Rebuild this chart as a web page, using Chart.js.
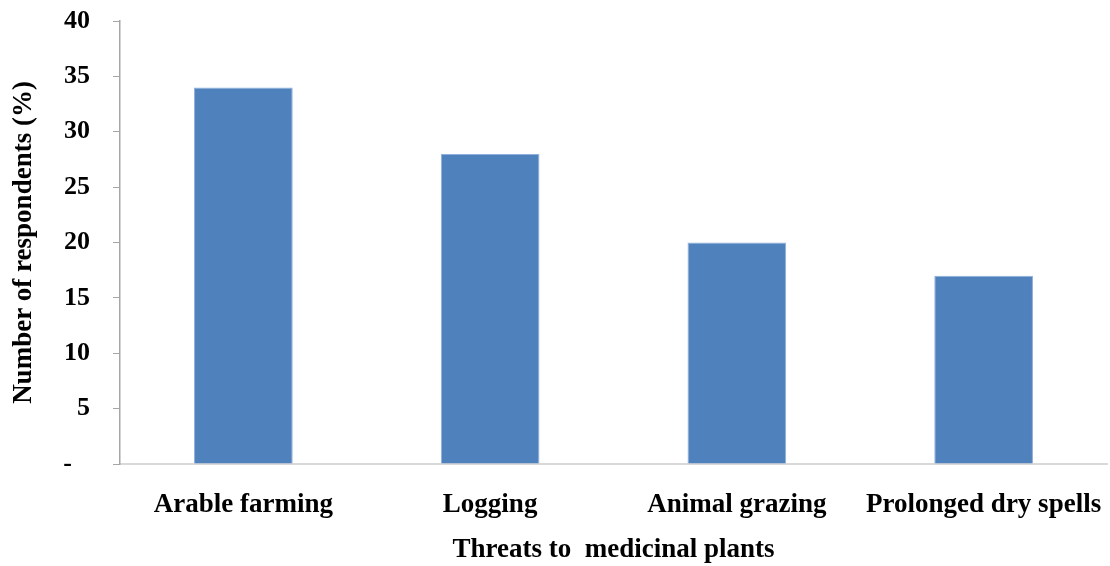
<!DOCTYPE html>
<html>
<head>
<meta charset="utf-8">
<script src="https://cdn.jsdelivr.net/npm/chart.js@4/dist/chart.umd.min.js"></script>
<style>
  html, body { margin: 0; padding: 0; background: #ffffff; }
  #wrap { width: 1110px; height: 566px; position: relative; }
</style>
</head>
<body>
<div id="wrap"><canvas id="chart" width="1110" height="566"></canvas></div>
<script>
// Threats reported by respondents (% of respondents)
const categories = ["Arable farming", "Logging", "Animal grazing", "Prolonged dry spells"];
const respondents = [34, 28, 20, 17];
const yMin = 0;
const yMax = 40;
const yStep = 5;

const FONT = "'Liberation Serif', 'Times New Roman', serif";

new Chart(document.getElementById("chart"), {
  type: "bar",
  data: {
    labels: categories,
    datasets: [{
      data: respondents,
      backgroundColor: "#4f81bd",
      borderColor: "#8fb0dc",
      borderWidth: 1,
      categoryPercentage: 0.4,
      barPercentage: 1.0
    }]
  },
  options: {
    responsive: false,
    animation: false,
    devicePixelRatio: 1,
    layout: { padding: { top: 21, right: 3, left: 0, bottom: 0 } },
    plugins: {
      legend: { display: false },
      tooltip: { enabled: false }
    },
    scales: {
      x: {
        grid: { display: true, drawOnChartArea: false, drawTicks: false },
        border: { display: true, color: "#d9d9d9", width: 2 },
        ticks: {
          color: "#000",
          padding: 25,
          maxRotation: 0,
          autoSkip: false,
          font: { family: FONT, size: 27, weight: "bold" }
        },
        title: {
          display: true,
          text: "Threats to  medicinal plants",
          color: "#000",
          padding: { top: 0, bottom: 0 },
          font: { family: FONT, size: 27, weight: "bold" }
        },
        afterFit(scale) {
          scale.height = 102;
          scale.paddingLeft = 0;
          scale.paddingRight = 0;
        }
      },
      y: {
        min: yMin,
        max: yMax,
        grid: { display: true, drawOnChartArea: false, drawTicks: true, tickLength: 7, color: "#a6a6a6" },
        border: { display: true, color: "#a6a6a6", width: 1.5 },
        ticks: {
          stepSize: yStep,
          color: "#000",
          padding: 23,
          font: { family: FONT, size: 26, weight: "bold" },
          // zero shown as an accounting-style dash
          callback: (v) => (v === 0 ? "-\u2002\u2009" : String(v))
        },
        title: {
          display: true,
          text: "Number of respondents (%)",
          color: "#000",
          padding: { top: 8, bottom: 0 },
          font: { family: FONT, size: 27, weight: "bold" }
        },
        afterFit(scale) {
          scale.width = 120;
          scale.paddingTop = 0;
          scale.paddingBottom = 0;
        }
      }
    }
  }
});
</script>
</body>
</html>
